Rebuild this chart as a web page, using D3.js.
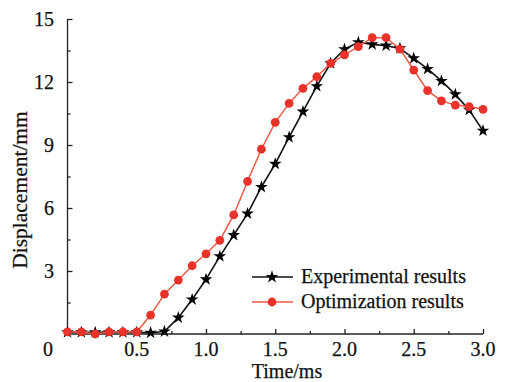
<!DOCTYPE html>
<html>
<head>
<meta charset="utf-8">
<script src="https://cdn.jsdelivr.net/npm/d3@7"></script>
<style>
  body { margin: 0; background: #fff; }
  svg text { font-family: "Liberation Serif", "Times New Roman", serif; fill: #111; stroke: #111; stroke-width: 0.25; }
</style>
</head>
<body>
<svg id="canvas" width="509" height="382"></svg>
<script>
// time in ms
const times = [0, 0.1, 0.2, 0.3, 0.4, 0.5, 0.6, 0.7, 0.8, 0.9, 1.0, 1.1, 1.2, 1.3, 1.4, 1.5,
               1.6, 1.7, 1.8, 1.9, 2.0, 2.1, 2.2, 2.3, 2.4, 2.5, 2.6, 2.7, 2.8, 2.9, 3.0];
// displacement in mm
const experimental = [0.08, 0.08, 0.08, 0.08, 0.08, 0.08, 0.06, 0.12, 0.78, 1.64, 2.6, 3.7, 4.71, 5.73, 7.0, 8.1,
                      9.37, 10.59, 11.8, 12.89, 13.56, 13.89, 13.79, 13.73, 13.6, 13.13, 12.62, 12.05, 11.41, 10.67, 9.68];
const optimization = [0.1, 0.1, 0.0, 0.1, 0.1, 0.1, 0.9, 1.9, 2.57, 3.25, 3.82, 4.46, 5.67, 7.27, 8.8, 10.08,
                      10.98, 11.7, 12.25, 12.89, 13.29, 13.68, 14.11, 14.11, 13.57, 12.57, 11.59, 11.1, 10.9, 10.83, 10.7];
const xTicks = [0.5, 1.0, 1.5, 2.0, 2.5, 3.0];
const yTicks = [3, 6, 9, 12, 15];
const legendNames = ["Experimental results", "Optimization results"];

let canvas = d3.select("#canvas");

let x = d3.scaleLinear().domain([0, 3]).range([67.5, 483]);
let y = d3.scaleLinear().domain([0, 15]).range([334, 19]);

// axes, ticks pointing inward
let xAxis = canvas.append("g").attr("transform", "translate(0," + y(0) + ")");
xAxis.call(d3.axisBottom(x).tickValues(d3.range(0.25, 3.01, 0.25)).tickSize(-3).tickFormat(""));
xAxis.call(g => g.selectAll(".tick line").attr("y2", (d) => Math.abs(d * 2 - Math.round(d * 2)) < 0.01 ? -5 : -3));
xAxis.call(g => g.select(".domain").attr("d", "M" + x(0) + ",0H" + x(3)));

let yAxis = canvas.append("g").attr("transform", "translate(" + x(0) + ",0)");
yAxis.call(d3.axisLeft(y).tickValues(d3.range(1.5, 15.01, 1.5)).tickSize(-3).tickFormat(""));
yAxis.call(g => g.selectAll(".tick line").attr("x2", (d) => Math.abs(d / 3 - Math.round(d / 3)) < 0.01 ? 5 : 3));
yAxis.call(g => g.select(".domain").attr("d", "M0," + y(0) + "V" + y(15)));

canvas.selectAll(".domain, .tick line").attr("stroke", "#222").attr("stroke-width", 1.3);

// tick labels
canvas.selectAll(".xlab")
    .data(xTicks)
    .enter()
    .append("text")
    .attr("x", (d) => x(d))
    .attr("y", 356)
    .attr("text-anchor", "middle")
    .attr("font-size", 20)
    .text((d) => d.toFixed(1));

canvas.selectAll(".ylab")
    .data(yTicks)
    .enter()
    .append("text")
    .attr("x", 54)
    .attr("y", (d) => y(d) + 7)
    .attr("text-anchor", "end")
    .attr("font-size", 20)
    .text((d) => d);

canvas.append("text")
    .attr("x", 48)
    .attr("y", 356)
    .attr("text-anchor", "middle")
    .attr("font-size", 20)
    .text("0");

// axis titles
canvas.append("text")
    .attr("x", 287)
    .attr("y", 377.5)
    .attr("text-anchor", "middle")
    .attr("font-size", 20)
    .text("Time/ms");

canvas.append("text")
    .attr("transform", "translate(27,190) rotate(-90)")
    .attr("text-anchor", "middle")
    .attr("font-size", 21.5)
    .text("Displacement/mm");

let line = d3.line().x((d, i) => x(times[i])).y((d) => y(d));
let star = d3.symbol().type(d3.symbolStar).size(50);

// experimental: black line with stars
canvas.append("path")
    .datum(experimental)
    .attr("d", line)
    .attr("fill", "none")
    .attr("stroke", "#111")
    .attr("stroke-width", 1.6);

canvas.selectAll(".star")
    .data(experimental)
    .enter()
    .append("path")
    .attr("d", star)
    .attr("transform", (d, i) => "translate(" + x(times[i]) + "," + y(d) + ")")
    .attr("fill", "#000");

// optimization: red line with dots
canvas.append("path")
    .datum(optimization)
    .attr("d", line)
    .attr("fill", "none")
    .attr("stroke", "#ee5a45")
    .attr("stroke-width", 1.5);

canvas.selectAll(".dot")
    .data(optimization)
    .enter()
    .append("circle")
    .attr("cx", (d, i) => x(times[i]))
    .attr("cy", (d) => y(d))
    .attr("r", 4.4)
    .attr("fill", "#e8322a");

// legend
let legend = canvas.append("g");
legendNames.forEach((name, i) => {
    let ly = 277 + i * 25;
    legend.append("line")
        .attr("x1", 252).attr("x2", 293)
        .attr("y1", ly).attr("y2", ly)
        .attr("stroke", i === 0 ? "#111" : "#ee5a45")
        .attr("stroke-width", 1.6);
    if (i === 0) {
        legend.append("path")
            .attr("d", star())
            .attr("transform", "translate(272," + ly + ")")
            .attr("fill", "#000");
    } else {
        legend.append("circle")
            .attr("cx", 272).attr("cy", ly).attr("r", 4.4)
            .attr("fill", "#e8322a");
    }
    legend.append("text")
        .attr("x", 301)
        .attr("y", ly + 6)
        .attr("font-size", 20)
        .text(name);
});
</script>
</body>
</html>
